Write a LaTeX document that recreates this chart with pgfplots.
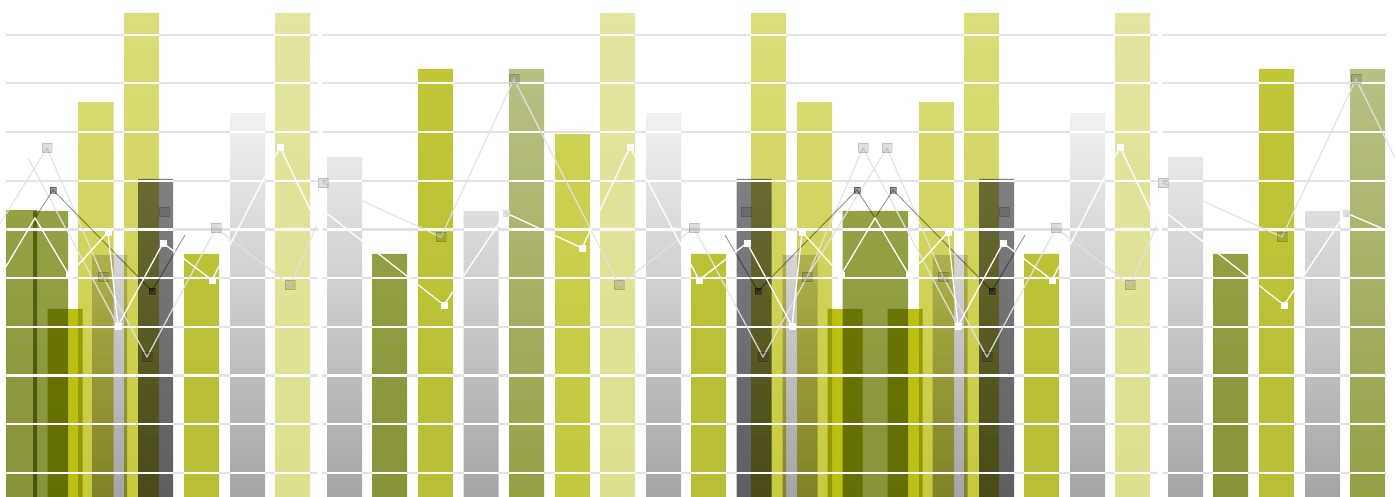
\documentclass[border=0pt]{standalone}
\usepackage{pgfplots}
\pgfplotsset{compat=1.18}
\definecolor{olTop}{HTML}{96A044}\definecolor{olBot}{HTML}{88933A}
\definecolor{brY}{HTML}{BBC012}
\definecolor{yTop}{HTML}{DADD7A}\definecolor{yBot}{HTML}{C7CA3C}
\definecolor{pTop}{HTML}{E3E5A0}\definecolor{pBot}{HTML}{DDE08E}
\definecolor{ygTop}{HTML}{C0C636}\definecolor{ygBot}{HTML}{B8BE36}
\definecolor{yglTop}{HTML}{CDD252}\definecolor{yglBot}{HTML}{C3C840}
\definecolor{ogTop}{HTML}{B9C085}\definecolor{ogBot}{HTML}{96A045}
\definecolor{lgTop}{HTML}{F1F1F2}\definecolor{lgBot}{HTML}{A5A5A7}
\definecolor{dgTop}{HTML}{808083}\definecolor{dgBot}{HTML}{5E5E61}
\definecolor{gridG}{HTML}{E3E3E3}
\definecolor{lineL}{HTML}{E2E2E2}
\definecolor{markL}{HTML}{DEDEDE}
\definecolor{lineC}{HTML}{9C9C9C}
\begin{document}
\begin{tikzpicture}
\begin{axis}[
  scale only axis, width=1395bp, height=497bp,
  xmin=0, xmax=1395, ymin=0, ymax=497,
  hide axis, clip=true,
  every axis plot/.append style={unbounded coords=jump},
]
% ---------- bars (multiply blended) ----------
\pgfplotsset{mybar/.style={ybar, bar shift=0pt, draw=none, blend mode=multiply}}
\addplot[mybar, bar width=31, top color=olTop, bottom color=olBot] coordinates {(21.5,286)};
\addplot[mybar, bar width=35, top color=olTop, bottom color=olBot] coordinates {(50.5,286) (389.5,243) (860,286) (890.5,286) (1230.5,243)};
\addplot[mybar, bar width=35, fill=brY] coordinates {(65,188) (845,188) (905,188)};
\addplot[mybar, bar width=35, top color=yTop, bottom color=yBot] coordinates {(96,395) (814.5,395) (936.5,395) (141.5,484) (768.5,484) (981.5,484)};
\addplot[mybar, bar width=35, top color=pTop, bottom color=pBot] coordinates {(292.5,484) (617.5,484) (1132.5,484)};
\addplot[mybar, bar width=35, top color=ygTop, bottom color=ygBot] coordinates {(201.5,243) (435.5,428) (708.5,243) (1041.5,243) (1276.5,428)};
\addplot[mybar, bar width=35, top color=yglTop, bottom color=yglBot] coordinates {(572.5,362)};
\addplot[mybar, bar width=35, top color=ogTop, bottom color=ogBot] coordinates {(526.5,428) (1367.5,428)};
\addplot[mybar, bar width=35, top color=lgTop, bottom color=lgBot] coordinates {(109.5,242) (247.5,384) (344.5,340) (481,286) (663.5,384) (800,242) (950,242) (1087.5,384) (1185.5,340) (1322.5,286)};
\addplot[mybar, bar width=35, top color=dgTop, bottom color=dgBot] coordinates {(155.5,318) (754,318) (996.5,318)};
% ---------- grid lines: grey everywhere ----------
\pgfplotsinvokeforeach{24,72.7,121.4,170.1,218.8,267.5,316.2,364.9,413.6,462.3}{
  \addplot[gridG, line width=2.2bp, no marks] coordinates {(6,#1)(318,#1)(320,nan)(322,#1)(1158,#1)(1160,nan)(1162,#1)(1386,#1)};
}
% ---------- grid lines: white over bars ----------
\pgfplotsinvokeforeach{24,72.7,121.4,170.1}{
  \addplot[white, line width=2.2bp, no marks] coordinates {
  (6,#1)(173,#1)(173,nan)(184,#1)(219,#1)(219,nan)(230,#1)(265,#1)(265,nan)(275,#1)(310,#1)(310,nan)
  (327,#1)(362,#1)(362,nan)(372,#1)(407,#1)(407,nan)(418,#1)(453,#1)(453,nan)(464,#1)(498,#1)(498,nan)
  (509,#1)(544,#1)(544,nan)(555,#1)(590,#1)(590,nan)(600,#1)(635,#1)(635,nan)(646,#1)(681,#1)(681,nan)
  (691,#1)(726,#1)(726,nan)(737,#1)(1014,#1)(1014,nan)(1024,#1)(1059,#1)(1059,nan)(1070,#1)(1105,#1)(1105,nan)
  (1115,#1)(1150,#1)(1150,nan)(1168,#1)(1203,#1)(1203,nan)(1213,#1)(1248,#1)(1248,nan)(1259,#1)(1294,#1)(1294,nan)
  (1305,#1)(1340,#1)(1340,nan)(1350,#1)(1385,#1)};
}
\addplot[white, line width=2.2bp, no marks] coordinates {
  (6,218.8)(68,218.8)(68,nan)(79,218.8)(173,218.8)(173,nan)(184,218.8)(219,218.8)(219,nan)(230,218.8)(265,218.8)(265,nan)
  (275,218.8)(310,218.8)(310,nan)(327,218.8)(362,218.8)(362,nan)(372,218.8)(407,218.8)(407,nan)(418,218.8)(453,218.8)(453,nan)
  (464,218.8)(498,218.8)(498,nan)(509,218.8)(544,218.8)(544,nan)(555,218.8)(590,218.8)(590,nan)(600,218.8)(635,218.8)(635,nan)
  (646,218.8)(681,218.8)(681,nan)(691,218.8)(726,218.8)(726,nan)(737,218.8)(832,218.8)(832,nan)(843,218.8)(908,218.8)(908,nan)
  (919,218.8)(1014,218.8)(1014,nan)(1024,218.8)(1059,218.8)(1059,nan)(1070,218.8)(1105,218.8)(1105,nan)(1115,218.8)(1150,218.8)(1150,nan)
  (1168,218.8)(1203,218.8)(1203,nan)(1213,218.8)(1248,218.8)(1248,nan)(1259,218.8)(1294,218.8)(1294,nan)(1305,218.8)(1340,218.8)(1340,nan)
  (1350,218.8)(1385,218.8)};
\addplot[white, line width=2.2bp, no marks] coordinates {
  (6,267.5)(68,267.5)(68,nan)(79,267.5)(113,267.5)(113,nan)(124,267.5)(173,267.5)(173,nan)(230,267.5)(265,267.5)(265,nan)
  (275,267.5)(310,267.5)(310,nan)(327,267.5)(362,267.5)(362,nan)(418,267.5)(453,267.5)(453,nan)(464,267.5)(498,267.5)(498,nan)
  (509,267.5)(544,267.5)(544,nan)(555,267.5)(590,267.5)(590,nan)(600,267.5)(635,267.5)(635,nan)(646,267.5)(681,267.5)(681,nan)
  (737,267.5)(786,267.5)(786,nan)(797,267.5)(832,267.5)(832,nan)(843,267.5)(908,267.5)(908,nan)(919,267.5)(954,267.5)(954,nan)
  (964,267.5)(1014,267.5)(1014,nan)(1070,267.5)(1105,267.5)(1105,nan)(1115,267.5)(1150,267.5)(1150,nan)(1168,267.5)(1203,267.5)(1203,nan)
  (1259,267.5)(1294,267.5)(1294,nan)(1305,267.5)(1340,267.5)(1340,nan)(1350,267.5)(1385,267.5)};
\addplot[white, line width=2.2bp, no marks] coordinates {
  (79,316.2)(113,316.2)(113,nan)(124,316.2)(173,316.2)(173,nan)(230,316.2)(265,316.2)(265,nan)(275,316.2)(310,316.2)(310,nan)
  (327,316.2)(362,316.2)(362,nan)(418,316.2)(453,316.2)(453,nan)(509,316.2)(544,316.2)(544,nan)(555,316.2)(590,316.2)(590,nan)
  (600,316.2)(635,316.2)(635,nan)(646,316.2)(681,316.2)(681,nan)(737,316.2)(786,316.2)(786,nan)(797,316.2)(832,316.2)(832,nan)
  (919,316.2)(954,316.2)(954,nan)(964,316.2)(1014,316.2)(1014,nan)(1070,316.2)(1105,316.2)(1105,nan)(1115,316.2)(1150,316.2)(1150,nan)
  (1168,316.2)(1203,316.2)(1203,nan)(1259,316.2)(1294,316.2)(1294,nan)(1350,316.2)(1385,316.2)};
\addplot[white, line width=2.2bp, no marks] coordinates {
  (79,364.9)(113,364.9)(113,nan)(124,364.9)(159,364.9)(159,nan)(230,364.9)(265,364.9)(265,nan)(275,364.9)(310,364.9)(310,nan)
  (418,364.9)(453,364.9)(453,nan)(509,364.9)(544,364.9)(544,nan)(600,364.9)(635,364.9)(635,nan)(646,364.9)(681,364.9)(681,nan)
  (751,364.9)(786,364.9)(786,nan)(797,364.9)(832,364.9)(832,nan)(919,364.9)(954,364.9)(954,nan)(964,364.9)(999,364.9)(999,nan)
  (1070,364.9)(1105,364.9)(1105,nan)(1115,364.9)(1150,364.9)(1150,nan)(1259,364.9)(1294,364.9)(1294,nan)(1350,364.9)(1385,364.9)};
\addplot[white, line width=2.2bp, no marks] coordinates {
  (124,413.6)(159,413.6)(159,nan)(275,413.6)(310,413.6)(310,nan)(418,413.6)(453,413.6)(453,nan)(509,413.6)(544,413.6)(544,nan)
  (600,413.6)(635,413.6)(635,nan)(751,413.6)(786,413.6)(786,nan)(964,413.6)(999,413.6)(999,nan)(1115,413.6)(1150,413.6)(1150,nan)
  (1259,413.6)(1294,413.6)(1294,nan)(1350,413.6)(1385,413.6)};
\addplot[white, line width=2.2bp, no marks] coordinates {
  (124,462.3)(159,462.3)(159,nan)(275,462.3)(310,462.3)(310,nan)(600,462.3)(635,462.3)(635,nan)(751,462.3)(786,462.3)(786,nan)
  (964,462.3)(999,462.3)(999,nan)(1115,462.3)(1150,462.3)};
% ---------- light grey line series ----------
\pgfplotsset{lineA/.style={lineL, line width=1.3bp, no marks, opacity=0.9}}
\addplot[lineA] coordinates {(-33,220) (47,349) (103,220) (147,140) (216,269) (290,212) (318,274)};
\addplot[lineA] coordinates {(323,314) (441,260) (514,418) (619,212) (694,269) (763,140) (807,220) (863,349) (958,171)};
\addplot[lineA] coordinates {(807,220) (887,349) (943,220) (987,140) (1056,269) (1130,212) (1158,274)};
\addplot[lineA] coordinates {(1163,314) (1282,260) (1356,418) (1400,329)};
\addplot[lineA] coordinates {(28,339) (118,171)};
% ---------- grey line series ----------
\addplot[lineC, line width=1bp, no marks, blend mode=multiply] coordinates {(35,279) (53,307) (152,206) (185,262)};
\addplot[lineC, line width=1bp, no marks, blend mode=multiply] coordinates {(725,262) (758,206) (857,307) (875,279) (893,307) (992,206) (1025,262)};
% ---------- white line series ----------
\addplot[white, line width=1.3bp, no marks] coordinates {(1,222) (35,279) (69,222) (108,265) (118,171) (163,254) (212,217) (280,350) (318,271)};
\addplot[white, line width=1.3bp, no marks] coordinates {(320,289) (444,192) (506,284) (582,249) (630,350) (699,217) (747,254) (792,171) (802,265) (841,222) (875,279) (909,222) (948,265) (958,171) (1003,254) (1052,217) (1120,350) (1158,271)};
\addplot[white, line width=1.3bp, no marks] coordinates {(1160,289) (1284,192) (1346,284) (1400,261)};
% ---------- markers (fill and stroke in one colour) ----------
\addplot[markL, only marks, mark=square*, mark size=4.6bp, mark options={fill=markL, draw=markL, line width=0.2bp}, blend mode=multiply] coordinates {
  (47,349) (103,220) (147,140) (216,269) (290,212) (323,314) (441,260) (514,418) (619,212) (694,269) (763,140) (807,220)
  (863,349) (887,349) (943,220) (987,140) (1056,269) (1130,212) (1163,314) (1282,260) (1356,418) (164,285) (746,285) (1004,285)};
\addplot[lineC, only marks, mark=square*, mark size=3.2bp, mark options={fill=lineC, draw=lineC, line width=0.2bp}, blend mode=multiply] coordinates {
  (53,307) (152,206) (758,206) (857,307) (893,307) (992,206)};
\addplot[white, only marks, mark=square*, mark size=3bp, mark options={fill=white, draw=white, line width=0.2bp}] coordinates {
  (69,222) (108,265) (118,171) (163,254) (212,217) (280,350) (444,192) (582,249) (630,350) (699,217) (747,254) (792,171)
  (802,265) (841,222) (909,222) (948,265) (958,171) (1003,254) (1052,217) (1120,350) (1284,192)};
\addplot[markL, only marks, mark=square*, mark size=3bp, mark options={fill=markL, draw=markL, line width=0.2bp}] coordinates {(506,284) (1346,284)};
\end{axis}
\pgfresetboundingbox
\useasboundingbox (current axis.south west) rectangle (current axis.north east);
\end{tikzpicture}
\end{document}
